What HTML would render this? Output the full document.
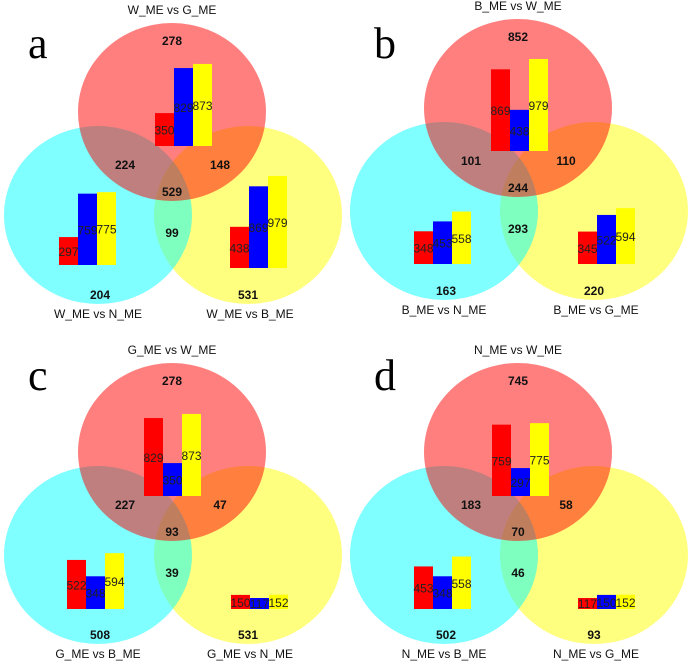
<!DOCTYPE html>
<html><head><meta charset="utf-8"><style>
html,body{margin:0;padding:0;background:#fff;width:692px;height:664px;overflow:hidden}
svg text{font-family:"Liberation Sans",Arial,sans-serif}
</style></head><body>
<svg id="fig" width="692" height="664" viewBox="0 0 692 664" xmlns="http://www.w3.org/2000/svg"></svg>
<script>
// Panel data
const panelLetters = ["a","b","c","d"];
const panelTitles = ["W_ME vs G_ME","B_ME vs W_ME","G_ME vs W_ME","N_ME vs W_ME"];
const leftLabels = ["W_ME vs N_ME","B_ME vs N_ME","G_ME vs B_ME","N_ME vs B_ME"];
const rightLabels = ["W_ME vs B_ME","B_ME vs G_ME","G_ME vs N_ME","N_ME vs G_ME"];
// region counts: top-only, top&left, top&right, all, left&right, left-only, right-only
const regionA = [278,224,148,529,99,204,531];
const regionB = [852,101,110,244,293,163,220];
const regionC = [278,227,47,93,39,508,531];
const regionD = [745,183,58,70,46,502,93];
// bar values [red, blue, yellow] for top, left, right circles
const barsTopA = [350,829,873], barsLeftA = [297,759,775], barsRightA = [438,869,979];
const barsTopB = [869,438,979], barsLeftB = [348,453,558], barsRightB = [345,522,594];
const barsTopC = [829,350,873], barsLeftC = [522,348,594], barsRightC = [150,117,152];
const barsTopD = [759,297,775], barsLeftD = [453,348,558], barsRightD = [117,150,152];

const NS="http://www.w3.org/2000/svg";
const svg=document.getElementById('fig');
function mk(tag,attrs,parent){const e=document.createElementNS(NS,tag);for(const k in attrs)e.setAttribute(k,attrs[k]);(parent||svg).appendChild(e);return e;}
const regions=[regionA,regionB,regionC,regionD];
const bars=[[barsTopA,barsLeftA,barsRightA],[barsTopB,barsLeftB,barsRightB],[barsTopC,barsLeftC,barsRightC],[barsTopD,barsLeftD,barsRightD]];
const offs=[[0,0],[346,-4],[0,340],[346,340]];
const panelY=[0,0,332,332];
const barPos=[[[155,146],[59,265],[230,268]],[[145,151],[68,264],[232,264]],[[144,164],[67,277],[231,277]],[[146,164],[68,277],[232,277]]];
const regionPos=[[172,45],[125,169],[220,169],[172,196],[172,237],[100,299],[248,299]];
const scale=v=>v*0.094;
const barColors=["#ff0000","#0000ff","#ffff00"];
const barNames=["red","blue","yellow"];
const groupNames=["top","left","right"];

for(let p=0;p<4;p++){
  const [ox,oy]=offs[p];
  const g=mk('g',{});
  
  
  const circ=[[248,215,'#ffff00','right-circle'],[98,215,'#00ffff','left-circle'],[172,112,'#ff0000','top-circle']];
  circ.forEach(c=>{
    const e=mk('ellipse',{cx:ox+c[0],cy:oy+c[1],rx:94,ry:89,fill:c[2],'fill-opacity':0.5},g);
    
    
  });
  const t=mk('text',{x:ox+172,y:oy+14,'font-size':12,'text-anchor':'middle',fill:'#111'},g);t.textContent=panelTitles[p];
  
  
  const l=mk('text',{x:ox+98,y:oy+318,'font-size':12,'text-anchor':'middle',fill:'#111'},g);l.textContent=leftLabels[p];
  
  
  const r=mk('text',{x:ox+250,y:oy+318,'font-size':12,'text-anchor':'middle',fill:'#111'},g);r.textContent=rightLabels[p];
  
  
  const le=mk('text',{x:ox+28,y:panelY[p]+58,'font-size':44,'font-family':'"Liberation Serif",serif',fill:'#000'},g);le.textContent=panelLetters[p];
  le.style.fontFamily='"Liberation Serif",serif';
  
  
  // bars
  for(let gi=0;gi<3;gi++){
    const [bx,by]=barPos[p][gi];
    const vals=bars[p][gi];
    for(let b=0;b<3;b++){
      const h=scale(vals[b]);
      const rc=mk('rect',{x:ox+bx+b*19,y:panelY[p]+by-h,width:19,height:h,fill:barColors[b]},g);
      
      
    }
    for(let b=0;b<3;b++){
      const h=scale(vals[b]);
      const ty=Math.min(panelY[p]+by-h/2+5,panelY[p]+by-1);
      const tx=mk('text',{x:ox+bx+b*19+9.5,y:ty,'font-size':12,'text-anchor':'middle',fill:'#222'},g);
      tx.textContent=vals[b];
      
      
    }
  }
  // region counts
  regions[p].forEach((v,i)=>{
    const tx=mk('text',{x:ox+regionPos[i][0],y:oy+regionPos[i][1],'font-size':12,'font-weight':'bold','text-anchor':'middle',fill:'#111'},g);
    tx.textContent=v;
    
    
  });
}
</script>
</body></html>
